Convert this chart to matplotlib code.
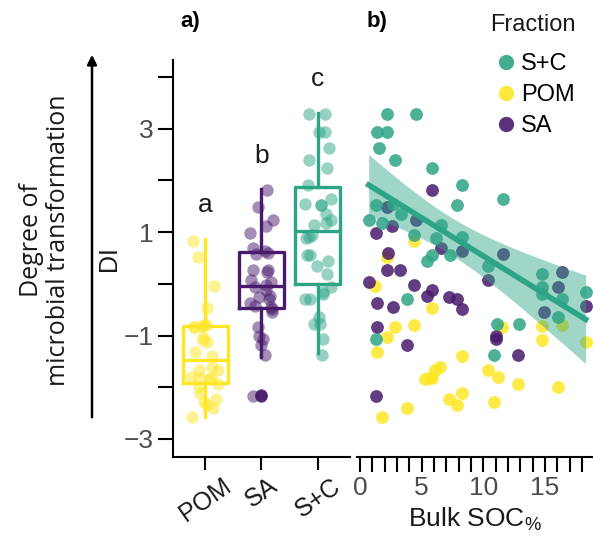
import numpy as np
import matplotlib
matplotlib.use('Agg')
import matplotlib.pyplot as plt
from matplotlib.lines import Line2D


FRACTIONS = ['POM', 'SA', 'S+C']
COLORS = {
    'S+C': '#2ea486',
    'POM': '#fde725',
    'SA': '#481a6c'}

# box statistics
box_median = [-1.48, -0.04, 1.02]
box_q1 = [-1.92, -0.46, 0.0]
box_q3 = [-0.81, 0.62, 1.87]
box_lo = [-2.58, -1.42, -1.33]
box_hi = [0.87, 1.83, 3.31]
sa_outliers = [-2.15, -2.17]
group_letters = ['a', 'b', 'c']

# bulk SOC (%) and DI per fraction (panel b)
pom_soc = [4.4, 2.2, 1.2, 5.8, 2.8, 2.2, 4.4, 1.4, 8.3, 11.5, 14.8, 16.4, 14.8, 18.3, 6.5,
           6.1, 5.6, 5.3, 5.8, 10.4, 11.2, 12.8, 16.1, 8.3, 7.2, 7.9, 10.9, 3.8, 1.8]
pom_di = [0.83, 0.51, -0.04, -0.47, -0.84, -1.02, -0.79, -1.32, -1.40, -0.83, -0.81, -0.79,
          -1.08, -1.13, -1.61, -1.67, -1.83, -1.85, -1.83, -1.67, -1.81, -1.93, -1.99, -2.11,
          -2.22, -2.35, -2.28, -2.41, -2.57]

sa_soc = [5.8, 2.2, 1.3, 2.6, 4.5, 6.6, 8.3, 11.6, 2.3, 2.2, 3.2, 0.7, 4.4, 5.8, 5.4, 7.2,
          7.9, 8.3, 1.4, 2.7, 1.4, 3.8, 10.4, 16.4, 16.1, 14.9, 18.3, 11.0, 11.0, 12.8, 1.3]
sa_di = [1.82, 1.48, 0.99, 1.12, 1.24, 0.70, 0.63, 0.58, 0.60, 0.26, 0.26, 0.04, -0.02,
         -0.12, -0.23, -0.26, -0.29, -0.49, -0.38, -0.44, -0.84, -1.18, 0.07, 0.22, -0.07,
         -0.55, -0.42, -1.06, -1.00, -1.38, -2.17]

sc_soc = [2.2, 4.5, 1.4, 2.2, 1.5, 2.8, 5.8, 8.3, 11.6, 7.9, 1.3, 0.7, 1.8, 3.3, 2.7, 6.6,
          6.2, 8.3, 5.8, 5.4, 7.3, 4.4, 10.4, 14.8, 14.8, 14.8, 16.4, 16.1, 18.3, 3.8, 1.3,
          11.1, 12.9, 10.9]
sc_di = [3.29, 3.29, 2.94, 2.93, 2.62, 2.40, 2.24, 1.92, 1.64, 1.53, 1.53, 1.24, 1.18, 1.35,
         1.54, 1.13, 0.88, 0.90, 0.55, 0.44, 0.55, 0.94, 0.35, 0.20, -0.07, -0.20, -0.29,
         -0.65, -0.15, -0.29, -1.06, -0.78, -0.78, -1.37]

soc = {'POM': pom_soc, 'SA': sa_soc, 'S+C': sc_soc}
di = {'POM': pom_di, 'SA': sa_di, 'S+C': sc_di}

plt.rcParams['font.family'] = ['Liberation Sans', 'DejaVu Sans']
plt.rcParams['mathtext.default'] = 'regular'
TICK_GREY = '#4d4d4d'

fig = plt.figure(figsize=(5.93, 5.47), dpi=100)
ax1 = fig.add_axes([0.2917, 0.1645, 0.298, 0.7258])
ax2 = fig.add_axes([0.602, 0.1645, 0.398, 0.7258], sharey=ax1)

# ---- panel a: boxes + strip
rng = np.random.default_rng(3)
for i, frac in enumerate(FRACTIONS):
    c = COLORS[frac]
    jitter = rng.uniform(-0.25, 0.25, len(di[frac]))
    ax1.scatter(i + jitter, di[frac], s=80, color=c, alpha=0.5, lw=0, zorder=2)

stats = []
for i, frac in enumerate(FRACTIONS):
    stats.append({'med': box_median[i], 'q1': box_q1[i], 'q3': box_q3[i],
                  'whislo': box_lo[i], 'whishi': box_hi[i],
                  'fliers': sa_outliers if frac == 'SA' else [], 'label': frac})
bp = ax1.bxp(stats, positions=range(3), widths=0.8, showfliers=True, patch_artist=False,
             manage_ticks=False)
for i, frac in enumerate(FRACTIONS):
    c = COLORS[frac]
    for art in [bp['boxes'][i], bp['medians'][i], bp['whiskers'][2 * i],
                bp['whiskers'][2 * i + 1]]:
        art.set_color(c)
        art.set_linewidth(2.4)
        art.set_zorder(3)
    bp['caps'][2 * i].set_visible(False)
    bp['caps'][2 * i + 1].set_visible(False)
    bp['fliers'][i].set(marker='o', markersize=9, markerfacecolor=c, markeredgecolor='none',
                        alpha=0.8)

for i, letter in enumerate(group_letters):
    ax1.text(i, box_hi[i] + 0.42, letter, ha='center', va='bottom', fontsize=19,
             color='#1a1a1a')

ax1.set_xlim(-0.57, 2.57)
ax1.set_ylim(-3.35, 4.33)
ax1.set_xticks(range(3))
ax1.set_xticklabels(FRACTIONS, rotation=35, ha='center', fontsize=18, color='#1a1a1a')
ax1.set_yticks(range(-3, 5))
ax1.set_yticklabels([str(v).replace('-', '\u2212') if v % 2 else '' for v in range(-3, 5)],
                    fontsize=19, color=TICK_GREY)
ax1.tick_params(axis='y', length=11, width=1.5, pad=3)
ax1.tick_params(axis='x', length=9, width=1.5, pad=3)
ax1.set_ylabel('DI', fontsize=18, color='#1a1a1a', labelpad=2)
for side in ['top', 'right']:
    ax1.spines[side].set_visible(False)
for side in ['left', 'bottom']:
    ax1.spines[side].set_linewidth(1.5)

# ---- panel b: scatter + regression for S+C
for frac in ['POM', 'SA', 'S+C']:
    ax2.scatter(soc[frac], di[frac], s=85, color=COLORS[frac], alpha=0.85, lw=0, zorder=2)

x = np.array(sc_soc)
y = np.array(sc_di)
n = len(x)
slope, intercept = np.polyfit(x, y, 1)
xs = np.linspace(x.min(), x.max(), 100)
fit = intercept + slope * xs
resid = y - (intercept + slope * x)
s_err = np.sqrt(np.sum(resid ** 2) / (n - 2))
se = s_err * np.sqrt(1 / n + (xs - x.mean()) ** 2 / np.sum((x - x.mean()) ** 2))
ci = 2.035 * se
ax2.fill_between(xs, fit - ci, fit + ci, color=COLORS['S+C'], alpha=0.45, lw=0, zorder=3)
ax2.plot(xs, fit, color=COLORS['S+C'], lw=4, zorder=4)

ax2.set_xlim(-0.25, 18.9)
ax2.set_xticks(range(0, 19))
ax2.set_xticklabels([str(v) if v % 5 == 0 else '' for v in range(0, 19)], fontsize=19,
                    color=TICK_GREY)
ax2.tick_params(axis='x', length=11, width=1.5, pad=3)
ax2.tick_params(axis='y', left=False, labelleft=False)
ax2.set_xlabel('Bulk SOC$_{\\%}$', fontsize=19, color='#1a1a1a', labelpad=4)
for side in ['top', 'right', 'left']:
    ax2.spines[side].set_visible(False)
ax2.spines['bottom'].set_linewidth(1.5)

# legend: title placed separately so the gap under it matches
handles = [Line2D([], [], marker='o', ls='', markersize=11, markerfacecolor=COLORS[f],
                  markeredgecolor='none', alpha=0.9) for f in ['S+C', 'POM', 'SA']]
fig.text(490 / 593, 1 - 25 / 547, 'Fraction', fontsize=17, ha='left', va='center',
         color='#1a1a1a')
fig.legend(handles, ['S+C', 'POM', 'SA'], loc='upper left',
           bbox_to_anchor=(494 / 593, 1 - 53 / 547), frameon=False, fontsize=17,
           handletextpad=0.15, labelspacing=0.38, borderaxespad=0, borderpad=0,
           handlelength=1.0)

# panel tags and left annotation
fig.text(190 / 593, 1 - 22 / 547, 'a)', fontsize=16, fontweight='bold', ha='center',
         va='center')
fig.text(377 / 593, 1 - 22 / 547, 'b)', fontsize=16, fontweight='bold', ha='center',
         va='center')
fig.patches.append(matplotlib.patches.FancyArrowPatch(
    (92 / 593, 1 - 420 / 547), (92 / 593, 1 - 52 / 547), transform=fig.transFigure,
    arrowstyle='-|>', mutation_scale=14, lw=1.8, color='black'))
fig.text(45 / 593, 1 - 240 / 547, 'Degree of\nmicrobial transformation', rotation=90,
         ha='center', va='center', fontsize=18, color='#1a1a1a', linespacing=1.1,
         family=['Open Sans', 'DejaVu Sans'])

fig.savefig('out.png', dpi=100)
